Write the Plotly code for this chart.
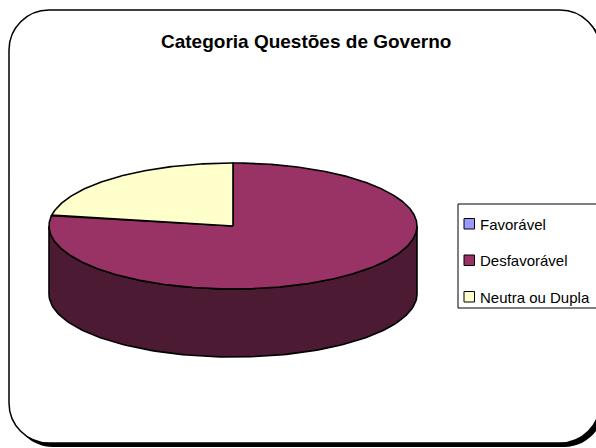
import numpy as np
import plotly.graph_objects as go

# ---- data ----
title_text = "Categoria Questões de Governo"
categories = ["Favorável", "Desfavorável", "Neutra ou Dupla"]
values = [0, 7, 2]
top_colors = ["#9999FF", "#993366", "#FFFFCC"]
side_colors = ["#4D4D80", "#4D1A33", "#808066"]

# ---- layout constants (pixel space) ----
W, H = 596, 448
cx, cy, rx, ry, depth = 233, 226, 184, 63, 68
FONT = "Liberation Sans Narrow, Arial Narrow, Liberation Sans, Arial, sans-serif"


def pt(theta_deg, dy=0.0):
    t = np.radians(theta_deg)
    return cx + rx * np.cos(t), cy - ry * np.sin(t) + dy


fig = go.Figure()

# slice angle ranges: clockwise from 12 o'clock
total = float(sum(values))
start = 90.0
ranges = []
for v in values:
    sweep = 360.0 * v / total
    ranges.append((start - sweep, start))  # (lo, hi) in math degrees
    start -= sweep

# side walls (front half only)
for (lo, hi), v, col in zip(ranges, values, side_colors):
    if v <= 0:
        continue
    for k in (-1, 0, 1):
        a = max(lo, 180 + 360 * k)
        b = min(hi, 360 + 360 * k)
        if b <= a:
            continue
        th = np.linspace(a, b, 120)
        xt, yt = pt(th)
        xb, yb = pt(th[::-1], depth)
        xs = np.concatenate([xt, xb, xt[:1]])
        ys = np.concatenate([yt, yb, yt[:1]])
        fig.add_trace(go.Scatter(x=xs, y=ys, mode="lines", fill="toself",
                                 fillcolor=col, line=dict(color="black", width=1.6),
                                 hoverinfo="skip", showlegend=False))

# top faces
for (lo, hi), v, col, name in zip(ranges, values, top_colors, categories):
    if v <= 0:
        continue
    th = np.linspace(lo, hi, max(4, int((hi - lo) * 2)))
    xa, ya = pt(th)
    xs = np.concatenate([[cx], xa, [cx]])
    ys = np.concatenate([[cy], ya, [cy]])
    fig.add_trace(go.Scatter(x=xs, y=ys, mode="lines", fill="toself",
                             fillcolor=col, line=dict(color="black", width=1.6),
                             hoverinfo="text", text=f"{name}: {v}",
                             showlegend=False))


def rounded_rect(x0, y0, x1, y1, r):
    k = 0.5523 * r
    return (f"M {x0 + r},{y0} L {x1 - r},{y0} "
            f"C {x1 - r + k},{y0} {x1},{y0 + r - k} {x1},{y0 + r} "
            f"L {x1},{y1 - r} "
            f"C {x1},{y1 - r + k} {x1 - r + k},{y1} {x1 - r},{y1} "
            f"L {x0 + r},{y1} "
            f"C {x0 + r - k},{y1} {x0},{y1 - r + k} {x0},{y1 - r} "
            f"L {x0},{y0 + r} "
            f"C {x0},{y0 + r - k} {x0 + r - k},{y0} {x0 + r},{y0} Z")


shapes = [
    dict(type="path", path=rounded_rect(13, 14, 604, 447, 40), xref="x", yref="y",
         fillcolor="black", line=dict(width=0), layer="below"),
    dict(type="path", path=rounded_rect(9, 10, 600, 443, 40), xref="x", yref="y",
         fillcolor="white", line=dict(color="black", width=1.5), layer="below"),
    # legend box
    dict(type="rect", x0=458, y0=204, x1=601, y1=308, xref="x", yref="y",
         fillcolor="white", line=dict(color="black", width=1), layer="below"),
]

annotations = [dict(x=306, y=41, xref="x", yref="y", text=f"<b>{title_text}</b>",
                    showarrow=False, xanchor="center", yanchor="middle",
                    font=dict(family=FONT, size=19, color="black"))]

leg_y0, leg_dy = 224, 36.5
for i, (name, col) in enumerate(zip(categories, top_colors)):
    yc = leg_y0 + i * leg_dy
    shapes.append(dict(type="rect", x0=464, x1=474.5, y0=yc - 5.5, y1=yc + 5,
                       xref="x", yref="y", fillcolor=col,
                       line=dict(color="black", width=1)))
    annotations.append(dict(x=478, y=yc, xref="x", yref="y", text=name,
                            showarrow=False, xanchor="left", yanchor="middle",
                            font=dict(family=FONT, size=15, color="black")))

fig.update_layout(
    width=W, height=H,
    margin=dict(l=0, r=0, t=0, b=0),
    paper_bgcolor="white", plot_bgcolor="white",
    xaxis=dict(range=[0, W], visible=False, fixedrange=True),
    yaxis=dict(range=[H, 0], visible=False, fixedrange=True),
    shapes=shapes, annotations=annotations,
    showlegend=False,
)

fig.write_html("out.html")
